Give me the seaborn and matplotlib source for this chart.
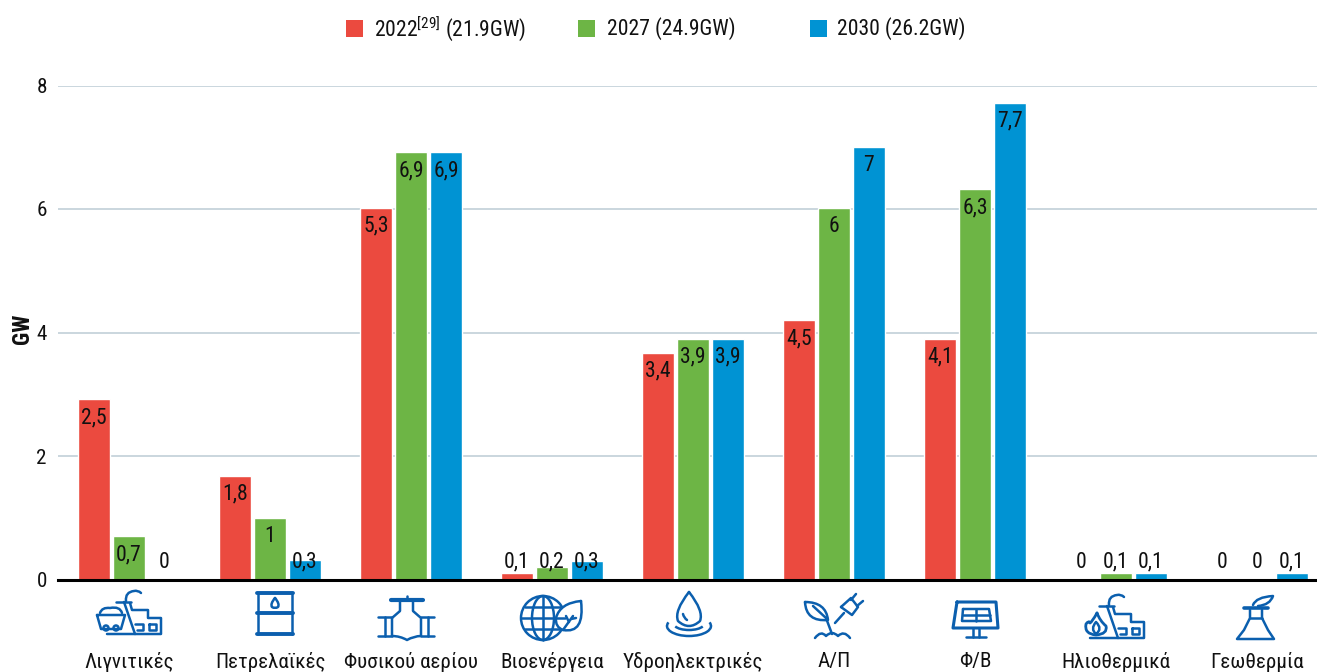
import matplotlib
matplotlib.use("Agg")
import matplotlib.pyplot as plt
from matplotlib.patches import Ellipse, Arc, PathPatch, Rectangle
from matplotlib.path import Path
import pandas as pd
import seaborn as sns

categories = ["Λιγνιτικές", "Πετρελαϊκές", "Φυσικού αερίου", "Βιοενέργεια", "Υδροηλεκτρικές",
              "Α/Π", "Φ/Β", "Ηλιοθερμικά", "Γεωθερμία"]
years = ["2022", "2027", "2030"]
# bar heights as drawn, they do not always agree with the printed labels
gw_2022 = [2.92, 1.68, 6.02, 0.1, 3.67, 4.2, 3.9, 0, 0]
gw_2027 = [0.7, 1.0, 6.92, 0.2, 3.9, 6.02, 6.32, 0.1, 0]
gw_2030 = [0, 0.32, 6.92, 0.3, 3.9, 7.0, 7.72, 0.1, 0.1]
labels_2022 = ["2,5", "1,8", "5,3", "0,1", "3,4", "4,5", "4,1", "0", "0"]
labels_2027 = ["0,7", "1", "6,9", "0,2", "3,9", "6", "6,3", "0,1", "0"]
labels_2030 = ["0", "0,3", "6,9", "0,3", "3,9", "7", "7,7", "0,1", "0,1"]
legend_texts = ["2022$^{\\mathrm{[29]}}$ (21.9GW)", "2027 (24.9GW)", "2030 (26.2GW)"]
yticks = [0, 2, 4, 6, 8]

colors = ["#EB4A3F", "#6DB545", "#0093D3"]
ICON = "#0B5FAE"

sns.set_theme(style="white")
plt.rcParams["font.family"] = ["Roboto Condensed", "Roboto", "DejaVu Sans"]
plt.rcParams["mathtext.fontset"] = "custom"
plt.rcParams["mathtext.rm"] = "Roboto Condensed"

W, H = 1317, 672
df = pd.DataFrame({
    "cat": categories * 3,
    "year": [y for y in years for _ in categories],
    "gw": gw_2022 + gw_2027 + gw_2030,
})

fig = plt.figure(figsize=(W / 100, H / 100), dpi=100)
ax = fig.add_axes([58 / W, (H - 579.5) / H, (W - 58) / W, 494 / H])
sns.barplot(data=df, x="cat", y="gw", hue="year", palette=colors, saturation=1,
            width=0.745, gap=0.07, legend=False, zorder=2, ax=ax)
ax.set_xlim(-0.504, 8.426)
ax.set_ylim(0, 8)
ax.set_yticks(yticks)
ax.grid(axis="y", color="#BCCBD5", lw=1.1, zorder=0)
ax.set_axisbelow(True)
sns.despine(ax=ax, left=True)
ax.spines["bottom"].set_linewidth(2.2)
ax.spines["bottom"].set_color("black")
ax.tick_params(axis="y", length=0, pad=8, labelsize=15.2, labelcolor="#111111")
ax.tick_params(axis="x", length=0, pad=52, labelsize=15.2, labelcolor="#111111")
ax.set_xlabel("")
ax.set_ylabel("GW", fontsize=16.5, fontweight="bold", labelpad=2, color="#111111", y=0.507)

# value labels sit inside the top of the bar, small bars get them at a fixed height
step = 0.248
series = [(gw_2022, labels_2022), (gw_2027, labels_2027), (gw_2030, labels_2030)]
for j, (vals, labs) in enumerate(series):
    for i, (v, lab) in enumerate(zip(vals, labs)):
        ax.text(i + (j - 1) * step, max(v - 0.3, 0.28), lab, ha="center", va="center",
                fontsize=15.6, color="#111111", zorder=4)

# overlay in pixel coordinates for the legend and the icons
ov = fig.add_axes([0, 0, 1, 1], zorder=5)
ov.set_xlim(0, W)
ov.set_ylim(H, 0)
ov.axis("off")
ov.patch.set_alpha(0)

for x0, xt, c, t in zip([346, 578, 810], [374, 607, 837], colors, legend_texts):
    ov.add_patch(Rectangle((x0, 20), 17, 17, color=c, lw=0))
    ov.text(xt, 28.5, t, va="center", fontsize=15.6, color="#111111")


def pl(pts, lw=1.8, close=False):
    if close:
        pts = list(pts) + [pts[0]]
    ov.plot(*zip(*pts), color=ICON, lw=lw, solid_capstyle="round", solid_joinstyle="round")


def bz(*pts, lw=1.8, fill="none"):
    # pts: start, control, end, control, end ...
    codes = [Path.MOVETO] + [Path.CURVE3] * (len(pts) - 1)
    ov.add_patch(PathPatch(Path(pts, codes), fc=fill, ec=ICON, lw=lw, capstyle="round", joinstyle="round"))


def ell(x, y, w, h, lw=1.8, fill="none"):
    ov.add_patch(Ellipse((x, y), w, h, fc=fill, ec=ICON, lw=lw))


def factory(dx, dy):
    pl([(116 + dx, 602 + dy), (131 + dx, 602 + dy)])
    pl([(124 + dx, 602 + dy), (135 + dx, 634 + dy)])
    pl([(130 + dx, 603 + dy), (132 + dx, 610 + dy), (148 + dx, 610 + dy), (148 + dx, 618 + dy),
        (161 + dx, 618 + dy), (161 + dx, 634 + dy), (107 + dx, 634 + dy)])
    pl([(135 + dx, 624 + dy), (143 + dx, 624 + dy), (143 + dx, 630 + dy), (137 + dx, 630 + dy)])
    pl([(149 + dx, 624 + dy), (156 + dx, 624 + dy), (156 + dx, 630 + dy), (149 + dx, 630 + dy)], close=True)
    bz((126 + dx, 601 + dy), (125 + dx, 592 + dy), (134 + dx, 591 + dy), (138 + dx, 590 + dy), (141 + dx, 593 + dy))


# lignite
factory(0, 0)
pl([(97, 615), (125, 615), (121, 629), (101, 629)], close=True)
bz((100, 613), (102, 607), (110, 608), (120, 606), (122, 613))
ell(106, 628, 5, 5, fill="white")
ell(116, 628, 5, 5, fill="white")

# oil barrel
pl([(258, 593), (258, 634)])
pl([(292, 593), (292, 634)])
for yy in [593, 613, 634]:
    pl([(257, yy), (293, yy)], lw=2.8)
bz((275, 598), (270, 604), (272, 607), (275, 609), (278, 607), (280, 604), (275, 598))

# natural gas valve
pl([(391, 600), (423, 600)], lw=3.0)
pl([(407, 596), (407, 600)])
pl([(378, 617), (392, 617)])
pl([(378, 636), (392, 636)])
pl([(421, 617), (434, 617)])
pl([(421, 636), (434, 636)])
pl([(385, 617), (385, 636)])
pl([(428, 617), (428, 636)])
pl([(400, 602), (400, 611), (392, 618), (392, 636)])
pl([(413, 602), (413, 611), (421, 618), (421, 636)])
bz((392, 636), (400, 636), (407, 640), (414, 636), (421, 636))

# bioenergy
ell(543, 618, 44, 44)
ell(543, 618, 22, 44)
pl([(543, 596), (543, 640)])
for yy, half in [(607, 18), (618, 22), (629, 18)]:
    pl([(543 - half, yy), (543 + half, yy)])
bz((581, 601), (560, 603), (556, 618), (555, 627), (563, 630), (585, 634), (581, 601), fill="white")
pl([(563, 630), (573, 616)])
pl([(569, 622), (566, 616)])
pl([(571, 619), (576, 618)])

# hydro
bz((689, 592), (674, 611), (678, 621), (689, 631), (700, 621), (704, 611), (689, 592))
ov.add_patch(Arc((689, 626), 44, 20, theta1=-10, theta2=190, ec=ICON, lw=1.8))
ov.add_patch(Arc((689, 624), 30, 12, theta1=10, theta2=170, ec=ICON, lw=1.8))
bz((683, 614), (684, 618), (687, 620))

# wind (plant and plug)
bz((805, 602), (806, 622), (828, 620), (826, 602), (805, 602))
pl([(813, 606), (826, 618), (832, 634)])
bz((815, 638), (821, 630), (826, 636), (832, 630), (838, 636), (844, 630), (850, 638))
pl([(835, 623), (844, 613)])
pl([(841, 607), (852, 615), (858, 607), (851, 598)], close=True)
pl([(851, 600), (856, 594)])
pl([(857, 606), (863, 601)])

# solar panel
pl([(957, 602), (996, 602), (998, 628), (953, 628)], close=True, lw=2.2)
pl([(963, 609), (989, 609), (991, 621), (962, 621)], close=True)
pl([(962.5, 615), (990, 615)])
pl([(976, 609), (976, 621)])
pl([(973, 628), (973, 637)])
pl([(979, 628), (979, 637)])
pl([(966, 637), (986, 637)])

# solar thermal
factory(983, 4)
bz((1097, 613), (1100, 621), (1106, 626), (1108, 634), (1096, 635), (1084, 634), (1086, 624), (1089, 620), (1090, 623),
   (1092, 622), (1097, 613), lw=2.0, fill="white")
bz((1096, 634), (1090, 629), (1096, 622), (1103, 629), (1096, 634))

# geothermal
pl([(1244, 608), (1268, 608)], lw=2.6)
pl([(1250, 610), (1250, 618), (1244, 630), (1237, 639), (1274, 639), (1268, 630), (1262, 618), (1262, 610)])
pl([(1250, 618), (1262, 618)])
bz((1253, 605), (1256, 597), (1273, 596), (1270, 605), (1258, 606))

fig.savefig("out.png", dpi=100)
